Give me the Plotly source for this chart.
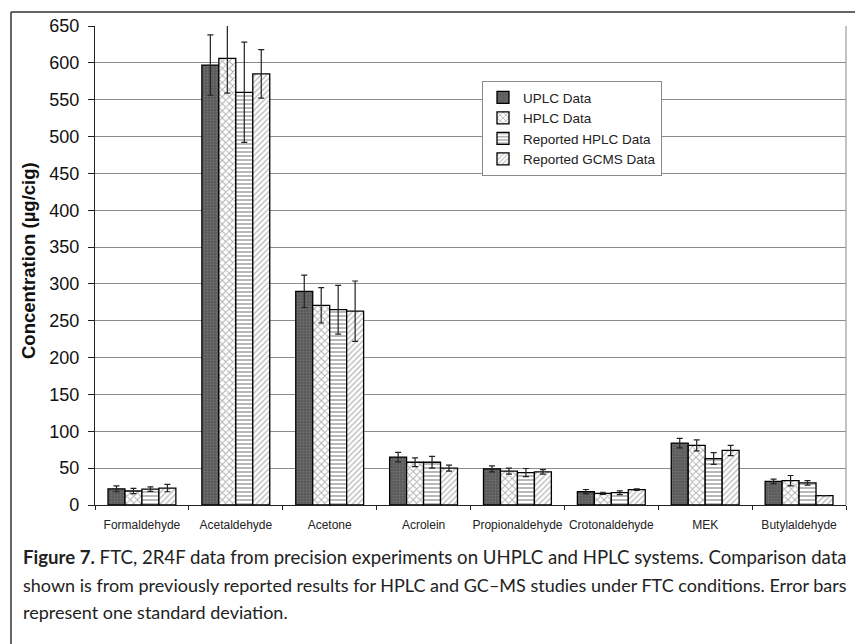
import plotly.graph_objects as go

categories = ["Formaldehyde", "Acetaldehyde", "Acetone", "Acrolein",
              "Propionaldehyde", "Crotonaldehyde", "MEK", "Butylaldehyde"]

uplc = [22, 597, 290, 65, 49, 18, 84, 32]
uplc_sd = [4, 41, 22, 6.5, 4, 3, 6.5, 3]
hplc = [19, 606, 271, 58, 46, 15.8, 81, 33]
hplc_sd = [3.5, 47, 24, 6, 4, 1.5, 7.5, 7]
rep_hplc = [21.5, 560, 265, 58, 44, 16.7, 63, 30]
rep_hplc_sd = [3, 68, 33, 8, 5.5, 2.5, 8, 3]
rep_gcms = [23, 585, 263, 50, 45, 20.8, 74, 12.6]
rep_gcms_sd = [5, 33, 41, 4, 3, 1, 7, 0]

series_names = ["UPLC Data", "HPLC Data", "Reported HPLC Data", "Reported GCMS Data"]

# page body has an 8px margin; all screen positions below are shifted by it
OFF = 8
W, H = 863 - OFF, 644 - OFF
L, R, T, B = 95 - OFF, 846 - OFF, 26 - OFF, 505 - OFF


def px(x):
    return (x - OFF - L) / (R - L)


def py(y):
    return (B - (y - OFF)) / (B - T)


styles = [
    dict(shape=".", fgcolor="#8a8a8a", bgcolor="#5a5a5a", size=3, solidity=0.3),
    dict(shape="x", fgcolor="#606060", bgcolor="#ffffff", size=5, solidity=0.35),
    dict(shape="-", fgcolor="#111111", bgcolor="#ffffff", size=4, solidity=0.3),
    dict(shape="/", fgcolor="#6a6a6a", bgcolor="#ffffff", size=4, solidity=0.3),
]

fig = go.Figure()
for name, vals, sds, st in zip(series_names, [uplc, hplc, rep_hplc, rep_gcms],
                               [uplc_sd, hplc_sd, rep_hplc_sd, rep_gcms_sd], styles):
    fig.add_trace(go.Bar(
        name=name, x=categories, y=vals, cliponaxis=False,
        marker=dict(color=st["bgcolor"], pattern=st,
                    line=dict(color="#000000", width=1.3)),
        error_y=dict(type="data", array=sds, visible=True,
                     color="#222222", thickness=1.2, width=3),
    ))

fig.update_layout(
    width=W, height=H,
    margin=dict(l=L, r=W - R, t=T, b=H - B, autoexpand=False),
    paper_bgcolor="white", plot_bgcolor="white",
    barmode="group", bargap=0.277, bargroupgap=0,
    font=dict(family="Liberation Sans, Arial, sans-serif", color="#111"),
    showlegend=True,
    legend=dict(x=px(482), y=py(81), xanchor="left", yanchor="top",
                bgcolor="white", bordercolor="#8a8a8a", borderwidth=1,
                font=dict(size=13.5, color="#222"), tracegroupgap=0,
                itemwidth=30),
)

fig.update_yaxes(range=[0, 650], dtick=50, showgrid=True, gridcolor="#8c8c8c",
                 gridwidth=1, showline=True, linecolor="#222", linewidth=1.2,
                 ticks="outside", ticklen=6, tickcolor="#222", automargin=False,
                 ticklabelstandoff=5,
                 tickfont=dict(size=18, color="#111"), zeroline=False)
fig.update_xaxes(showline=True, linecolor="#222", linewidth=1.2, automargin=False,
                 ticks="outside", tickson="boundaries", ticklen=4, tickcolor="#222",
                 tickangle=0, ticklabelstandoff=8,
                 tickfont=dict(size=12, color="#222"))

# right border of plot area
fig.add_shape(type="line", xref="paper", yref="paper", x0=1, x1=1, y0=0, y1=1,
              line=dict(color="#9a9a9a", width=1.2))
# outer frame
fig.add_shape(type="line", xref="paper", yref="paper", x0=px(11), x1=px(880),
              y0=py(12), y1=py(12), line=dict(color="#333", width=1.5))
fig.add_shape(type="line", xref="paper", yref="paper", x0=px(11), x1=px(11),
              y0=py(12), y1=py(660), line=dict(color="#333", width=1.5))

fig.add_annotation(text="<b>Concentration (µg/cig)</b>", xref="paper", yref="paper",
                   x=px(29), y=py(261), textangle=-90, showarrow=False,
                   font=dict(size=18.5, color="#111"), xanchor="center", yanchor="middle")

caption = [
    "<b>Figure 7.</b> FTC, 2R4F data from precision experiments on UHPLC and HPLC systems. Comparison data",
    "shown is from previously reported results for HPLC and GC–MS studies under FTC conditions. Error bars",
    "represent one standard deviation.",
]
caption_sizes = [18.6, 18.0, 18.0]
for i, (line, fs) in enumerate(zip(caption, caption_sizes)):
    fig.add_annotation(text=line, xref="paper", yref="paper", x=px(21), y=py(557 + 27.5 * i),
                       xanchor="left", yanchor="middle", showarrow=False,
                       font=dict(family="Lato, sans-serif", size=fs, color="#222"))

fig.write_html("out.html")
